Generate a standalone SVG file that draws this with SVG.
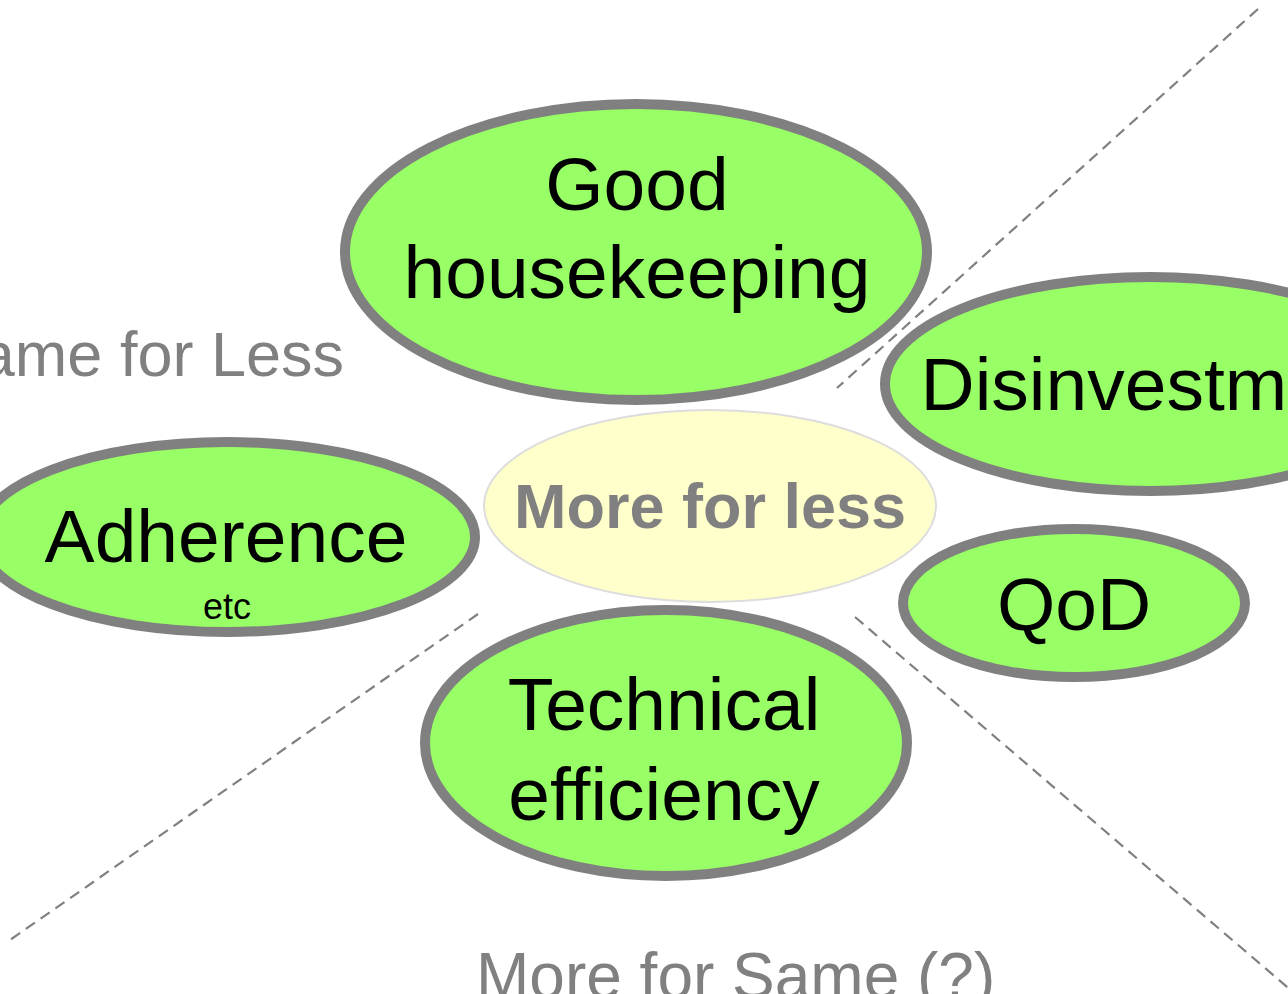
<svg xmlns="http://www.w3.org/2000/svg" width="1288" height="994" viewBox="0 0 1288 994">
<style>
.node{fill:#99FF66;stroke:#808080;stroke-width:10}
.center{fill:#FFFFCC;stroke:#DDDDDD;stroke-width:2}
.t{font-family:"Liberation Sans",Arial,sans-serif;fill:#000;text-anchor:middle;font-size:75px}
.q{font-family:"Liberation Sans",Arial,sans-serif;fill:#808080;font-size:63px}
.div{stroke:#808080;stroke-width:2.2;stroke-dasharray:11 7;fill:none}
</style>
<rect width="1288" height="994" fill="#fff"/>
<g id="connectors">
<line class="div" x1="1258" y1="9" x2="837" y2="388"/>
<line class="div" x1="478" y1="614" x2="10" y2="940"/>
<line class="div" x1="855" y1="617" x2="1300" y2="998"/>
</g>
<text class="q" x="344" y="376" text-anchor="end">Same for Less</text>
<text class="q" x="476" y="998" style="font-size:64px">More for Same (?)</text>
<g id="good-housekeeping">
<ellipse class="node" cx="636" cy="252" rx="291" ry="148"/>
<text class="t" x="637" y="210">Good</text>
<text class="t" x="637" y="298">housekeeping</text>
</g>
<g id="disinvestment">
<ellipse class="node" cx="1150" cy="384" rx="265" ry="107"/>
<text class="t" x="1156" y="410">Disinvestment</text>
</g>
<g id="adherence">
<ellipse class="node" cx="227" cy="537" rx="248" ry="95"/>
<text class="t" x="226" y="562">Adherence</text>
<text class="t" x="227" y="619" style="font-size:36px">etc</text>
</g>
<g id="more-for-less">
<ellipse class="center" cx="710" cy="506" rx="226" ry="96"/>
<text class="t" x="710" y="528" style="font-size:63px;font-weight:bold;fill:#808080">More for less</text>
</g>
<g id="qod">
<ellipse class="node" cx="1074" cy="603" rx="171" ry="74"/>
<text class="t" x="1074" y="630">QoD</text>
</g>
<g id="technical-efficiency">
<ellipse class="node" cx="666" cy="743" rx="241" ry="133"/>
<text class="t" x="664" y="730">Technical</text>
<text class="t" x="664" y="820">efficiency</text>
</g>
</svg>
